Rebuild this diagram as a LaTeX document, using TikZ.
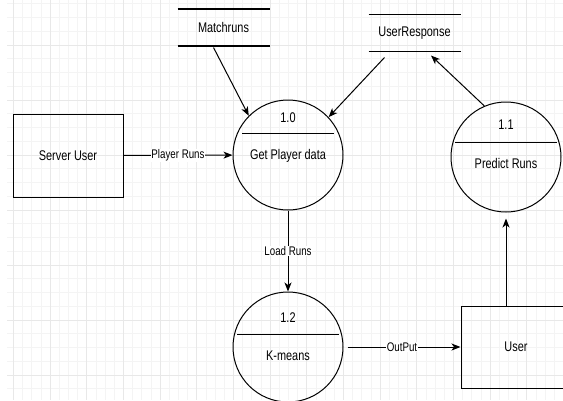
\documentclass[tikz,border=0pt]{standalone}
\usepackage{fontspec}
\setmainfont{Liberation Sans}[FakeStretch=0.78]
\usetikzlibrary{arrows.meta,calc}
\definecolor{gridmajor}{HTML}{E8E8E8}
\definecolor{gridminor}{HTML}{F4F4F4}

\begin{document}
\begin{tikzpicture}[x=1pt, y=-1pt, ->, >={Stealth[length=9pt,width=7pt,inset=2.5pt]}, line width=1pt,
    font=\fontsize{14}{16}\selectfont,
    proc/.style={draw, circle, minimum size=110pt, inner sep=0pt},
    ext/.style={draw, rectangle, inner sep=0pt},
    store/.style={inner sep=0pt, minimum width=91pt, minimum height=36pt},
    lab/.style={midway, fill=white, inner sep=0.5pt, font=\fontsize{12.5}{14}\selectfont}]

    \useasboundingbox (0,0) rectangle (563,400);
    \fill[white] (0,0) rectangle (563,400);
    % grid
    \foreach \i in {0,...,59}
        \draw[-, gridminor, line width=0.6pt] (13.33+9.1667*\i,0) -- (13.33+9.1667*\i,400);
    \foreach \j in {0,...,28}
        \draw[-, gridminor, line width=0.6pt] (7,3.75+13.75*\j) -- (563,3.75+13.75*\j);
    \foreach \i in {0,...,14}
        \draw[-, gridmajor, line width=0.8pt] (13.33+36.667*\i,0) -- (13.33+36.667*\i,400);
    \foreach \j in {0,...,6}
        \draw[-, gridmajor, line width=0.8pt] (7,45+55*\j) -- (563,45+55*\j);

    \node[ext, minimum width=110pt, minimum height=83pt] (su) at (68,155.5) {Server User};
    \node[ext, minimum width=110pt, minimum height=82pt] (us) at (516,347) {User};

    \node[store] (ms) at (223.5,27.5) {Matchruns};
    \node[store] (ur) at (414.5,33) {UserResponse};
    \draw[-, line width=1.3pt] (ms.north west) -- (ms.north east) (ms.south west) -- (ms.south east);
    \draw[-, line width=1.3pt] (ur.north west) -- (ur.north east) (ur.south west) -- (ur.south east);

    \node[proc] (p0) at (288,155) {};
    \node[proc] (p1) at (506,157) {};
    \node[proc] (p2) at (288,347) {};

    \node (n0) at (288,118) {1.0};
    \node (t0) at (288,156) {Get Player data};
    \node (n1) at (506,125) {1.1};
    \node (t1) at (506,163) {Predict Runs};
    \node (n2) at (288,318) {1.2};
    \node (t2) at (288,356) {K-means};
    \draw[-] ($(p0)+(-46,-22)$) -- ($(p0)+(46,-22)$);
    \draw[-] ($(p1)+(-51,-15)$) -- ($(p1)+(51,-15)$);
    \draw[-] ($(p2)+(-51,-13)$) -- ($(p2)+(51,-13)$);

    \path
        (su) edge node[lab] {Player Runs} (p0)
        ([xshift=-10pt,yshift=-1.5pt]ms.south) edge (p0.135)
        ([xshift=-30pt,yshift=-6pt]ur.south) edge (p0.43)
        (p1.113) edge ([xshift=16.5pt,yshift=-4pt]ur.south)
        (p0) edge node[lab] {Load Runs} (p2)
        (p2) edge[shorten <=4pt] node[lab] {OutPut} (us)
        (us.north -| p1) edge[shorten >=6pt] (p1.south)
        ;
\end{tikzpicture}
\end{document}
